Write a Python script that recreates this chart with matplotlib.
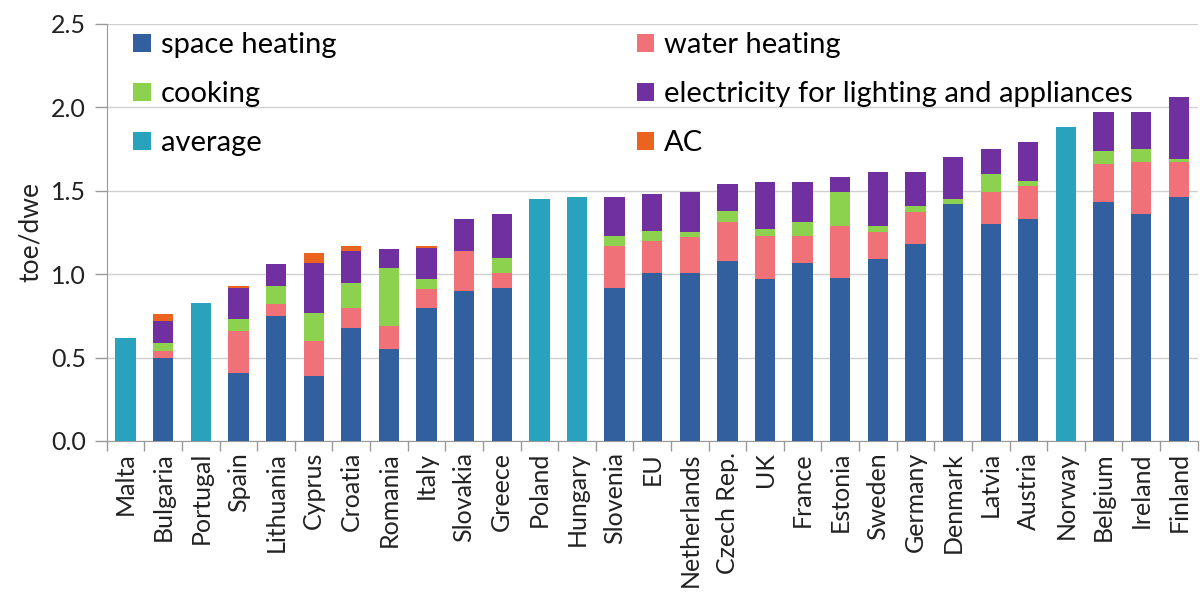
#!/usr/bin/env python3
# -*- coding: utf-8 -*-

import numpy as np
import matplotlib
matplotlib.use("Agg")
import matplotlib.pyplot as plt

# Data (toe per dwelling)
countries = ["Malta", "Bulgaria", "Portugal", "Spain", "Lithuania", "Cyprus",
             "Croatia", "Romania", "Italy", "Slovakia", "Greece", "Poland",
             "Hungary", "Slovenia", "EU", "Netherlands", "Czech Rep.", "UK",
             "France", "Estonia", "Sweden", "Germany", "Denmark", "Latvia",
             "Austria", "Norway", "Belgium", "Ireland", "Finland"]

space_heating = [0, 0.50, 0, 0.41, 0.75, 0.39, 0.68, 0.55, 0.80, 0.90, 0.92, 0, 0,
                 0.92, 1.01, 1.01, 1.08, 0.97, 1.07, 0.98, 1.09, 1.18, 1.42, 1.30,
                 1.33, 0, 1.43, 1.36, 1.46]
water_heating = [0, 0.04, 0, 0.25, 0.07, 0.21, 0.12, 0.14, 0.11, 0.24, 0.09, 0, 0,
                 0.25, 0.19, 0.21, 0.23, 0.26, 0.16, 0.31, 0.16, 0.19, 0.0, 0.19,
                 0.20, 0, 0.23, 0.31, 0.21]
cooking = [0, 0.05, 0, 0.07, 0.11, 0.17, 0.15, 0.35, 0.06, 0.0, 0.09, 0, 0,
           0.06, 0.06, 0.03, 0.07, 0.04, 0.08, 0.20, 0.04, 0.04, 0.03, 0.11,
           0.03, 0, 0.08, 0.08, 0.02]
electricity = [0, 0.13, 0, 0.19, 0.13, 0.30, 0.19, 0.11, 0.19, 0.19, 0.26, 0, 0,
               0.23, 0.22, 0.24, 0.16, 0.28, 0.24, 0.09, 0.32, 0.20, 0.25, 0.15,
               0.23, 0, 0.23, 0.22, 0.37]
ac = [0, 0.04, 0, 0.01, 0, 0.06, 0.03, 0, 0.01, 0, 0, 0, 0,
      0.005, 0, 0.005, 0, 0, 0, 0, 0, 0, 0, 0,
      0, 0, 0, 0, 0]
average = [0.62, 0, 0.83, 0, 0, 0, 0, 0, 0, 0, 0, 1.45, 1.46,
           0, 0, 0, 0, 0, 0, 0, 0, 0, 0, 0, 0, 1.88, 0, 0, 0]

# Colours
c_space = "#32609E"
c_water = "#F07178"
c_cook = "#8CD24E"
c_elec = "#7030A0"
c_avg = "#29A2BE"
c_ac = "#EA6420"

plt.rcParams["font.family"] = ["Lato", "DejaVu Sans"]

fig = plt.figure(figsize=(12, 5.94), dpi=100)
ax = fig.add_axes([0.089, 0.2576, 0.909, 0.702])

x = np.arange(len(countries))
w = 0.54

bottom = np.zeros(len(countries))
h_space = ax.bar(x, space_heating, w, bottom=bottom, color=c_space, label="space heating", zorder=3)
bottom += np.array(space_heating)
h_water = ax.bar(x, water_heating, w, bottom=bottom, color=c_water, label="water heating", zorder=3)
bottom += np.array(water_heating)
h_cook = ax.bar(x, cooking, w, bottom=bottom, color=c_cook, label="cooking", zorder=3)
bottom += np.array(cooking)
h_elec = ax.bar(x, electricity, w, bottom=bottom, color=c_elec,
                label="electricity for lighting and appliances", zorder=3)
bottom += np.array(electricity)
h_ac = ax.bar(x, ac, w, bottom=bottom, color=c_ac, label="AC", zorder=3)
h_avg = ax.bar(x, average, w, color=c_avg, label="average", zorder=3)

ax.set_xlim(-0.5, len(countries) - 0.5)
ax.set_ylim(0, 2.5)
ax.set_yticks([0, 0.5, 1.0, 1.5, 2.0, 2.5])
ax.set_yticklabels(["0.0", "0.5", "1.0", "1.5", "2.0", "2.5"], fontsize=18, color="#222222")
ax.set_ylabel("toe/dwe", fontsize=19, color="#222222", labelpad=6)

ax.set_xticks(x)
ax.set_xticklabels(countries, rotation=90, fontsize=18, color="#222222")
ax.tick_params(axis="x", length=0, pad=8)
ax.set_xticks(np.arange(-0.5, len(countries)), minor=True)
ax.tick_params(axis="x", which="minor", length=7, color="#999999", width=1)
ax.tick_params(axis="y", length=9, color="#999999", width=1, pad=6)

ax.grid(axis="y", color="#d0d0d0", linewidth=1, zorder=0)
for side in ["top", "right"]:
    ax.spines[side].set_visible(False)
for side in ["left", "bottom"]:
    ax.spines[side].set_color("#999999")

handles = [h_space, h_cook, h_avg, h_water, h_elec, h_ac]
labels = [h.get_label() for h in handles]
ax.legend(handles, labels, ncol=2, loc="upper left", bbox_to_anchor=(0.0, 1.043),
          frameon=False, fontsize=21, handlelength=0.6, handleheight=0.6,
          handletextpad=0.35, columnspacing=10.3, labelspacing=0.79)

fig.savefig("out.png", dpi=100)
